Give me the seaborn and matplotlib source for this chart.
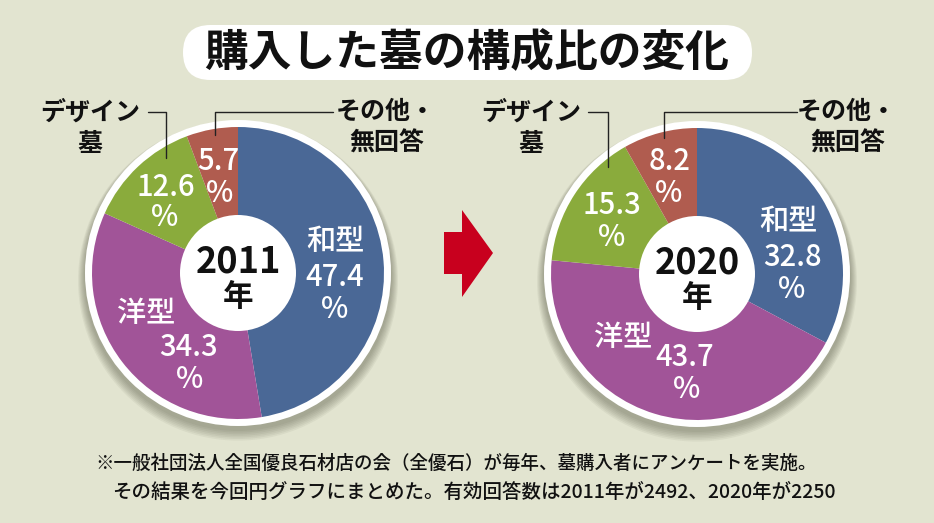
import numpy as np
import matplotlib
matplotlib.use("Agg")
import matplotlib.pyplot as plt
from matplotlib.patches import Circle, FancyBboxPatch, Polygon
import seaborn as sns

# data
categories = ["和型", "洋型", "デザイン墓", "その他・無回答"]
years = ["2011", "2020"]
share_2011 = [47.4, 34.3, 12.6, 5.7]
share_2020 = [32.8, 43.7, 15.3, 8.2]
title = "購入した墓の構成比の変化"
note_lines = [
    "※一般社団法人全国優良石材店の会（全優石）が毎年、墓購入者にアンケートを実施。",
    "その結果を今回円グラフにまとめた。有効回答数は2011年が2492、2020年が2250",
]

sns.set_theme(style="white")
plt.rcParams["font.family"] = ["Noto Sans CJK JP", "DejaVu Sans"]

W, H = 934, 523
BG = "#e2e4d0"
palette = sns.color_palette(["#4a6896", "#a15498", "#8aab3c", "#b05c4f"])

fig = plt.figure(figsize=(W / 100, H / 100), dpi=100, facecolor=BG)
ax = fig.add_axes([0, 0, 1, 1])
ax.set_facecolor(BG)


def Y(y):
    return H - y


# title pill
ax.add_patch(FancyBboxPatch((183, Y(80)), 569, 55,
                            boxstyle="round,pad=0,rounding_size=27.5",
                            fc="white", ec="none", zorder=1))
ax.text(467, Y(53), title, fontsize=31.5, fontweight="bold",
        ha="center", va="center", color="#111111", zorder=2)

R_OUT, R_IN, RING = 146, 58, 7
layout = {
    "2011": dict(cx=238, cy=273,
                 labels=[[("和型", 335, 242), ("{v}", 335, 277), ("%", 335, 310)],
                         [("洋型", 146, 313), ("{v}", 188, 347), ("%", 190, 380)],
                         [("{v}", 166, 187), ("%", 165, 218)],
                         [("{v}", 218, 162), ("%", 220, 193)]],
                 design=(90, 148, 166, 158), other=(386, 215, 333, 135)),
    "2020": dict(cx=697, cy=274,
                 labels=[[("和型", 788, 222), ("{v}", 792, 257), ("%", 792, 290)],
                         [("洋型", 623, 337), ("{v}", 685, 357), ("%", 687, 390)],
                         [("{v}", 612, 205), ("%", 612, 238)],
                         [("{v}", 670, 162), ("%", 669, 193)]],
                 design=(531, 588, 608, 167), other=(847, 664, 797, 138)),
}

for year, values in zip(years, [share_2011, share_2020]):
    L = layout[year]
    cx, cy = L["cx"], Y(L["cy"])
    # soft shadow under the ring
    for k in range(7):
        ax.add_patch(Circle((cx, cy - 4 - k * 0.6), R_OUT + RING + 1 + k,
                            fc="#3a3a2a", ec="none", alpha=0.06, zorder=1))
    ax.add_patch(Circle((cx, cy), R_OUT + RING, fc="white", ec="none", zorder=2))
    wedges, _ = ax.pie(values, colors=palette, startangle=90, counterclock=False,
                       radius=R_OUT, center=(cx, cy),
                       wedgeprops=dict(linewidth=0, zorder=3))
    for w in wedges:
        w.set_zorder(3)
    ax.add_patch(Circle((cx, cy), R_IN, fc="white", ec="none", zorder=4))
    ax.text(cx, Y(L["cy"] - 11), year, fontsize=26, fontweight="bold",
            ha="center", va="center", color="#111111", zorder=5)
    ax.text(cx, Y(L["cy"] + 24), "年", fontsize=22, fontweight="bold",
            ha="center", va="center", color="#111111", zorder=5)

    # white labels inside wedges
    for v, parts in zip(values, L["labels"]):
        for txt, x, y in parts:
            ax.text(x, Y(y), txt.format(v=f"{v:.1f}"), fontsize=21,
                    fontweight="medium", ha="center", va="center",
                    color="white", zorder=5)

    # outside labels with leader lines
    dx, lx0, lx1, ly1 = L["design"]
    ax.text(dx, Y(112), "デザイン", fontsize=18, fontweight="bold",
            ha="center", va="center", color="#111111")
    ax.text(dx, Y(144), "墓", fontsize=18, fontweight="bold",
            ha="center", va="center", color="#111111")
    ax.plot([lx0, lx1, lx1], [Y(112), Y(112), Y(ly1)], color="#222222",
            lw=1, zorder=6)

    ox, vx, hx, vy = L["other"]
    ax.text(ox, Y(112), "その他・", fontsize=18, fontweight="bold",
            ha="center", va="center", color="#111111")
    ax.text(ox + 1, Y(144), "無回答", fontsize=18, fontweight="bold",
            ha="center", va="center", color="#111111")
    ax.plot([vx, vx, hx], [Y(vy), Y(112), Y(112)], color="#222222",
            lw=1, zorder=6)

# arrow between the two pies
arrow = [(444, 232), (462, 232), (462, 210), (493, 253), (462, 297),
         (462, 274), (444, 274)]
ax.add_patch(Polygon([(x, Y(y)) for x, y in arrow], closed=True,
                     fc="#c8001e", ec="none", zorder=3))

# footnote
ax.text(95, Y(463), note_lines[0], fontsize=13.3, fontweight="medium",
        ha="left", va="center", color="#111111")
ax.text(112, Y(492), note_lines[1], fontsize=14, fontweight="medium",
        ha="left", va="center", color="#111111")

ax.set_xlim(0, W)
ax.set_ylim(0, H)
ax.set_aspect("auto")
ax.axis("off")

fig.savefig("out.png", dpi=100, facecolor=BG)
